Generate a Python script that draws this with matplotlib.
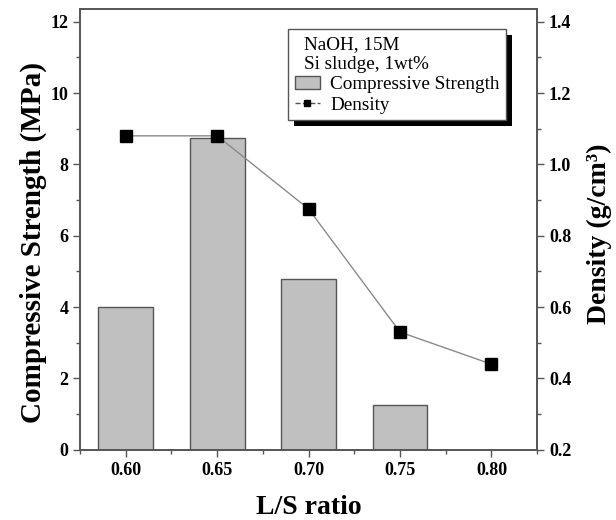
import matplotlib
matplotlib.use("Agg")
from matplotlib import pyplot as plt
from matplotlib.patches import Rectangle
from matplotlib.lines import Line2D
from matplotlib.ticker import MultipleLocator

plt.rcParams['font.family'] = ['Liberation Serif', 'DejaVu Serif']

ls_ratio = [0.60, 0.65, 0.70, 0.75, 0.80]
strength = [4.0, 8.75, 4.8, 1.25, 0.0]
density = [1.08, 1.08, 0.875, 0.53, 0.44]

spine_col = "#555555"

fig = plt.figure(figsize=(6.16, 5.2), dpi=100)
ax = fig.add_axes([0.130, 0.135, 0.742, 0.848])
ax2 = ax.twinx()

ax.bar(ls_ratio[:4], strength[:4], width=0.03, color="#c0c0c0",
       edgecolor="#555555", linewidth=1.0, zorder=2)
ax2.plot(ls_ratio, density, color="#8a8a8a", linewidth=1.0,
         marker="s", markersize=8.5, markerfacecolor="black",
         markeredgecolor="black", zorder=3)

ax.set_xlim(0.575, 0.825)
ax.set_ylim(0, 12.36)
ax2.set_ylim(0.2, 1.436)

ax.set_xticks(ls_ratio)
ax.set_xticklabels([f"{v:.2f}" for v in ls_ratio])
ax.xaxis.set_minor_locator(MultipleLocator(0.025))
ax.yaxis.set_major_locator(MultipleLocator(2))
ax.yaxis.set_minor_locator(MultipleLocator(1))
ax2.set_yticks([0.2, 0.4, 0.6, 0.8, 1.0, 1.2, 1.4])
ax2.set_yticklabels(["0.2", "0.4", "0.6", "0.8", "1.0", "1.2", "1.4"])
ax2.yaxis.set_minor_locator(MultipleLocator(0.1))

for a in (ax, ax2):
    for s in a.spines.values():
        s.set_color(spine_col)
        s.set_linewidth(1.2)
    a.tick_params(which="major", direction="out", length=5, width=1.0,
                  color=spine_col, labelsize=13)
    a.tick_params(which="minor", direction="out", length=3, width=1.0,
                  color=spine_col)
    for lab in a.get_xticklabels() + a.get_yticklabels():
        lab.set_fontweight("bold")

ax.set_xlabel("L/S ratio", fontsize=20, fontweight="bold", labelpad=12)
ax.set_ylabel("Compressive Strength (MPa)", fontsize=21, fontweight="bold")
ax.yaxis.set_label_coords(-0.072, 0.47)
ax2.set_ylabel("Density (g/cm³)", fontsize=20, fontweight="bold")
ax2.yaxis.set_label_coords(1.108, 0.49)

blank = Line2D([], [], linestyle="none")
bar_h = Rectangle((0, 0), 1, 1, facecolor="#c0c0c0", edgecolor="#555555")
den_h = Line2D([], [], color="#555555", linestyle="--", linewidth=1,
               marker="s", markersize=5, markerfacecolor="black",
               markeredgecolor="black")
leg = ax2.legend([blank, blank, bar_h, den_h],
                 ["NaOH, 15M", "Si sludge, 1wt%", "Compressive Strength", "Density"],
                 loc="upper left", bbox_to_anchor=(0.455, 0.955),
                 borderaxespad=0, fontsize=13.8, frameon=True, fancybox=False,
                 framealpha=1, facecolor="white",
                 edgecolor="#555555", handlelength=1.3, handletextpad=0.55,
                 labelspacing=0.15, borderpad=0.35)
leg.get_frame().set_linewidth(1.0)
for t in leg.get_texts()[:2]:
    t.set_position((-26, 0))

fig.canvas.draw()
bb = leg.get_window_extent().transformed(fig.transFigure.inverted())
shadow = Rectangle((bb.x0 + 6 / 616, bb.y0 - 6 / 520), bb.width, bb.height,
                   transform=fig.transFigure, facecolor="black",
                   edgecolor="none", zorder=4)
fig.patches.append(shadow)
ax2.set_zorder(5)
ax.set_zorder(1)
ax2.patch.set_visible(False)

fig.savefig("out.png", dpi=100)
